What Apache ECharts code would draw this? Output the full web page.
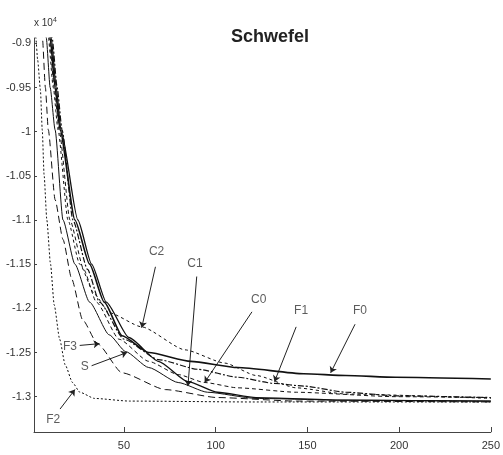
<!DOCTYPE html>
<html>
<head>
<meta charset="utf-8">
<script src="https://cdn.jsdelivr.net/npm/echarts@6/dist/echarts.min.js"></script>
<style>html,body{margin:0;padding:0;background:#fff;}#c{width:503px;height:455px;}</style>
</head>
<body>
<div id="c"></div>
<script>
// values in units of 10^4 (axis shows "x 10^4")
const xTicks = [50, 100, 150, 200, 250];
const yTicks = [-1.3, -1.25, -1.2, -1.15, -1.1, -1.05, -1, -0.95, -0.9];

const F2 = [[1.5,-0.87],[2,-0.894],[3,-0.919],[4.5,-0.953],[5.5,-0.998],[6.5,-1.049],[8,-1.1],[10,-1.15],[12,-1.196],[15,-1.235],[18,-1.264],[22,-1.284],[26,-1.295],[34,-1.302],[53,-1.305],[120,-1.306],[250,-1.306]];
const F3 = [[4.5,-0.86],[5.6,-0.894],[7.2,-0.95],[8.8,-0.998],[12.5,-1.077],[16.8,-1.122],[21.6,-1.167],[27.5,-1.213],[35.6,-1.24],[49,-1.273],[72.6,-1.292],[101,-1.301],[144,-1.305],[250,-1.306]];
const S  = [[6.5,-0.86],[7.7,-0.894],[9.8,-0.95],[12.5,-0.998],[16.8,-1.1],[23.3,-1.15],[31.3,-1.193],[42,-1.23],[51,-1.249],[63.5,-1.267],[79.6,-1.284],[95.6,-1.295],[122,-1.302],[171,-1.304],[250,-1.305]];
const F0 = [[8.5,-0.86],[9.8,-0.894],[12.5,-0.95],[15.2,-0.998],[23.3,-1.1],[31.3,-1.15],[39.3,-1.193],[49,-1.231],[63.5,-1.25],[86.5,-1.26],[112,-1.267],[148,-1.274],[171,-1.276],[198,-1.278],[250,-1.28]];
const F1 = [[9.5,-0.86],[10.9,-0.894],[13.6,-0.95],[16.3,-0.998],[22.2,-1.1],[30.2,-1.156],[36.7,-1.193],[50.1,-1.235],[68.8,-1.258],[90.3,-1.269],[112,-1.278],[132,-1.285],[148,-1.288],[171,-1.295],[198,-1.299],[250,-1.301]];
const C0 = [[8,-0.86],[9.3,-0.894],[12,-0.95],[14.7,-0.998],[20.6,-1.1],[28.1,-1.156],[35,-1.193],[47.4,-1.235],[63.5,-1.26],[79.6,-1.275],[94,-1.284],[112,-1.29],[144,-1.295],[198,-1.3],[250,-1.301]];
const C1 = [[9,-0.86],[10.4,-0.894],[13.1,-0.95],[15.7,-0.998],[24.9,-1.1],[32.4,-1.15],[40.4,-1.193],[52.7,-1.233],[68.8,-1.26],[84.9,-1.283],[101,-1.295],[122,-1.301],[171,-1.304],[250,-1.305]];
const C2 = [[7.5,-0.86],[8.8,-0.894],[11.5,-0.95],[14.1,-0.998],[19.5,-1.1],[25.9,-1.15],[34,-1.184],[42,-1.205],[59.7,-1.221],[83.3,-1.247],[105,-1.262],[122,-1.276],[144,-1.29],[171,-1.297],[250,-1.302]];

// annotations: label position, arrow start, arrow end (data units)
const annLabels = ['C2','C1','C0','F1','F0','F3','S','F2'];
const annText   = [[67.8,-1.136],[88.7,-1.150],[123.5,-1.190],[146.6,-1.203],[178.7,-1.203],[20.6,-1.243],[28.6,-1.266],[11.5,-1.326]];
const annFrom   = [[67.2,-1.153],[89.7,-1.164],[119.8,-1.204],[143.9,-1.221],[176,-1.218],[25.9,-1.242],[32.4,-1.265],[15.2,-1.314]];
const annTo     = [[59.7,-1.222],[84.9,-1.288],[94,-1.284],[132.1,-1.283],[162.7,-1.273],[36.7,-1.240],[51.7,-1.250],[23.3,-1.292]];

const font = "'Liberation Sans Narrow','Liberation Sans',Arial,sans-serif";
function line(name, data, type, width) {
  return {name, type:'line', data, showSymbol:false, symbol:'none', smooth:0.2, smoothMonotone:'x',
    clip:true, lineStyle:{color:'#111', width:width||1, type}};
}
const chart = echarts.init(document.getElementById('c'), null, {renderer:'canvas'});
chart.setOption({
  animation:false,
  backgroundColor:'#fff',
  title:{text:'Schwefel', left:265, top:23, textAlign:'center',
    textStyle:{fontFamily:'Liberation Sans,Arial,sans-serif', fontSize:18, fontWeight:'bold', color:'#222'}},
  grid:{left:34, right:5, top:38, bottom:23, containLabel:false},
  xAxis:{type:'value', min:1, max:250,
    axisLine:{lineStyle:{color:'#444', width:1}},
    axisTick:{inside:true, length:5, customValues:xTicks, lineStyle:{color:'#444'}},
    axisLabel:{customValues:xTicks, margin:8, color:'#333', fontFamily:font, fontSize:11},
    splitLine:{show:false}},
  yAxis:{type:'value', min:-1.34, max:-0.894,
    name:'{a|x 10}{b|4}', nameLocation:'end', nameGap:8,
    nameTextStyle:{align:'left', padding:[0,0,0,0], rich:{a:{fontSize:10,color:'#333',fontFamily:font},b:{fontSize:7,color:'#333',verticalAlign:'top',fontFamily:font,padding:[0,0,6,0]}}},
    axisLine:{show:true, lineStyle:{color:'#444', width:1}},
    axisTick:{show:true, inside:true, length:3, customValues:yTicks, lineStyle:{color:'#444'}},
    axisLabel:{customValues:yTicks, margin:3, color:'#333', fontFamily:font, fontSize:11,
      formatter:v=>String(Math.round(v*100)/100)},
    splitLine:{show:false}},
  series:[
    line('F2', F2, [2,2], 1),
    line('F3', F3, [7,4], 1),
    line('S', S, 'solid', 1),
    line('F0', F0, 'solid', 1.6),
    line('F1', F1, [6,2,2,2], 1.2),
    line('C0', C0, [4,3], 1),
    line('C1', C1, 'solid', 1.3),
    line('C2', C2, [3,3], 1),
    {type:'lines', coordinateSystem:'cartesian2d', silent:true,
      symbol:['none','arrow'], symbolSize:6,
      lineStyle:{color:'#222', width:1, opacity:1},
      data: annFrom.map((f,i)=>({coords:[f, annTo[i]]}))},
    {type:'scatter', symbolSize:0, silent:true,
      data: annText.map((p,i)=>({value:p, name:annLabels[i]})),
      label:{show:true, position:'inside', formatter:p=>p.name, color:'#333', fontFamily:font, fontSize:12}}
  ]
});
</script>
</body>
</html>
